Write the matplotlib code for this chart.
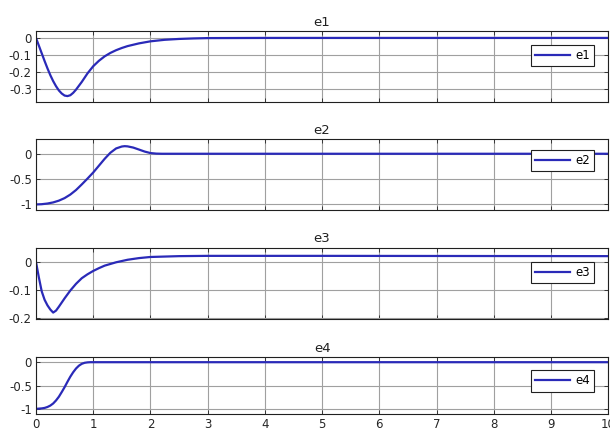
import numpy as np
import matplotlib
matplotlib.use('Agg')
import matplotlib.pyplot as plt

# values
t1 = [0, 0.05, 0.1, 0.15, 0.2, 0.25, 0.3, 0.35, 0.4, 0.45, 0.5, 0.55, 0.6, 0.65, 0.7, 0.8, 0.9,
      1.0, 1.1, 1.2, 1.3, 1.4, 1.5, 1.6, 1.8, 2.0, 2.25, 2.5, 2.75, 3.0, 4.0, 10.0]
e1 = [0, -0.045, -0.09, -0.135, -0.178, -0.218, -0.253, -0.283, -0.308, -0.326, -0.338, -0.341,
      -0.336, -0.322, -0.303, -0.258, -0.208, -0.166, -0.134, -0.108, -0.088, -0.072, -0.059, -0.048,
      -0.032, -0.02, -0.011, -0.006, -0.003, -0.001, 0, 0]

t2 = [0, 0.1, 0.2, 0.3, 0.4, 0.5, 0.6, 0.7, 0.8, 0.9, 1.0, 1.1, 1.2, 1.3, 1.4, 1.5, 1.55,
      1.6, 1.7, 1.8, 1.9, 2.0, 2.1, 2.2, 2.5, 10.0]
e2 = [-1, -0.995, -0.982, -0.96, -0.925, -0.875, -0.805, -0.715, -0.605, -0.49, -0.37, -0.235, -0.1,
      0.02, 0.105, 0.143, 0.15, 0.146, 0.122, 0.083, 0.043, 0.014, 0.003, 0, 0, 0]

t3 = [0, 0.05, 0.1, 0.15, 0.2, 0.25, 0.3, 0.35, 0.4, 0.5, 0.6, 0.7, 0.8, 0.9, 1.0, 1.1, 1.2,
      1.4, 1.6, 1.8, 2.0, 2.5, 3.0, 5.0, 10.0]
e3 = [0, -0.055, -0.105, -0.135, -0.155, -0.17, -0.181, -0.174, -0.16, -0.13, -0.102, -0.078,
      -0.058, -0.044, -0.032, -0.022, -0.013, -0.001, 0.008, 0.014, 0.018, 0.021, 0.022, 0.022, 0.021]

t4 = [0, 0.1, 0.15, 0.2, 0.25, 0.3, 0.35, 0.4, 0.45, 0.5, 0.55, 0.6, 0.65, 0.7, 0.75, 0.8,
      0.85, 0.9, 0.95, 1.0, 10.0]
e4 = [-1, -0.99, -0.98, -0.96, -0.93, -0.885, -0.82, -0.74, -0.64, -0.535, -0.42, -0.31,
      -0.215, -0.135, -0.075, -0.035, -0.013, -0.004, 0, 0, 0]

names = ['e1', 'e2', 'e3', 'e4']
times = [t1, t2, t3, t4]
series = [e1, e2, e3, e4]
yticks = [[0, -0.1, -0.2, -0.3], [0, -0.5, -1], [0, -0.1, -0.2], [0, -0.5, -1]]
yticklabels = [['0', '-0.1', '-0.2', '-0.3'], ['0', '-0.5', '-1'],
               ['0', '-0.1', '-0.2'], ['0', '-0.5', '-1']]
ylims = [(-0.376, 0.04), (-1.11, 0.29), (-0.204, 0.05), (-1.11, 0.11)]
xticks = list(range(0, 11))

# axes boxes in figure fraction
boxes = [(0.059, 0.767, 0.938, 0.162),
         (0.059, 0.5205, 0.938, 0.162),
         (0.059, 0.2717, 0.938, 0.162),
         (0.059, 0.0548, 0.938, 0.130)]
leg_y = [0.655, 0.70, 0.66, 0.58]

fig = plt.figure(figsize=(6.1, 4.38), dpi=100)
for i in range(4):
    ax = fig.add_axes(boxes[i])
    ax.plot(times[i], series[i], color='#2a2ab8', lw=1.6, label=names[i])
    ax.set_xlim(0, 10)
    ax.set_ylim(*ylims[i])
    ax.set_xticks(xticks)
    ax.set_yticks(yticks[i])
    ax.set_yticklabels(yticklabels[i])
    if i < 3:
        ax.set_xticklabels([])
    ax.grid(True, color='#a0a0a0', lw=0.8)
    ax.tick_params(direction='in', top=True, right=True, length=3, width=0.6,
                   labelsize=8.5, colors='#262626', pad=3)
    for s in ax.spines.values():
        s.set_linewidth(0.8)
        s.set_color('#202020')
    ax.set_title(names[i], fontsize=9.5, color='#202020', pad=4)
    leg = ax.legend(loc='center right', bbox_to_anchor=(0.975, leg_y[i]), fontsize=8.5,
                    frameon=True, fancybox=False, handlelength=3.0, borderpad=0.35,
                    handletextpad=0.4, borderaxespad=0)
    leg.get_frame().set_edgecolor('#202020')
    leg.get_frame().set_linewidth(0.8)
    leg.get_frame().set_alpha(1)

fig.savefig('out.png', dpi=100)
